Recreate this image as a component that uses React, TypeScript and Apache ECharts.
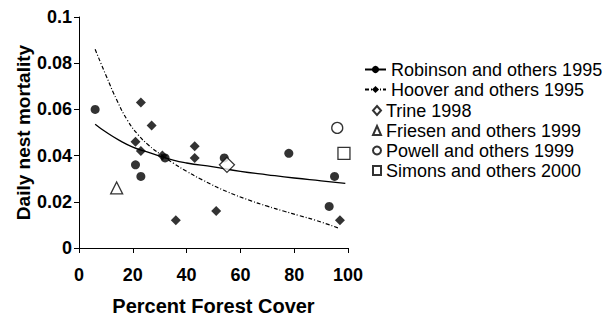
import React, { useEffect, useRef } from "react";
import * as echarts from "echarts";

const FONT = "'Liberation Sans', Arial, sans-serif";

// Observed data (percent forest cover, daily nest mortality)
const robinsonPoints: [number, number][] = [
  [6, 0.060], [21, 0.036], [23, 0.031], [32, 0.039], [54, 0.039],
  [78, 0.041], [93, 0.018], [95, 0.031],
];
const hooverPoints: [number, number][] = [
  [21, 0.046], [23, 0.063], [23, 0.042], [27, 0.053], [31, 0.040],
  [36, 0.012], [43, 0.044], [43, 0.039], [51, 0.016], [97, 0.012],
];
const trinePoints: [number, number][] = [[55, 0.036]];
const friesenPoints: [number, number][] = [[14, 0.026]];
const powellPoints: [number, number][] = [[96, 0.052]];
const simonsPoints: [number, number][] = [[98.5, 0.041]];

// Fitted trend curves
const robinsonTrendX = [6, 10, 15, 20, 25, 30, 35, 40, 50, 60, 70, 80, 90, 99];
const robinsonTrendY = [0.0536, 0.0502, 0.0466, 0.0437, 0.0417, 0.0398, 0.0380, 0.0368, 0.0351, 0.0332, 0.0317, 0.0303, 0.0291, 0.0280];
const hooverTrendX = [6, 10, 14, 18, 22, 26, 30, 35, 40, 46, 55, 64, 70, 76, 82, 88, 97];
const hooverTrendY = [0.0860, 0.0748, 0.0642, 0.0553, 0.0490, 0.0444, 0.0408, 0.0368, 0.0332, 0.0294, 0.0244, 0.0204, 0.0181, 0.0160, 0.0140, 0.0120, 0.0084];

const xTicks = [0, 20, 40, 60, 80, 100];
const yTicks = [0, 0.02, 0.04, 0.06, 0.08, 0.1];

const names = [
  "Robinson and others 1995",
  "Hoover and others 1995",
  "Trine 1998",
  "Friesen and others 1999",
  "Powell and others 1999",
  "Simons and others 2000",
];

export default function App() {
  const ref = useRef<HTMLDivElement>(null);
  useEffect(() => {
    if (!ref.current) return;
    const chart = echarts.init(ref.current, null, { renderer: "svg" });
    const hollow = { color: "#ffffff", borderColor: "#000000", borderWidth: 1.3 };
    const legendText = { fontFamily: FONT, fontSize: 18, color: "#000", lineHeight: 19 };
    chart.setOption({
      animation: false,
      backgroundColor: "#ffffff",
      textStyle: { fontFamily: FONT },
      grid: { left: 79, right: 259, top: 17, bottom: 68, containLabel: false, outerBoundsMode: "none" },
      legend: [
        {
          data: names.slice(0, 2),
          orient: "vertical",
          left: 359,
          top: 55,
          itemWidth: 21,
          itemHeight: 9,
          itemGap: 1,
          selectedMode: false,
          textStyle: legendText,
        },
        {
          data: names.slice(2),
          orient: "vertical",
          left: 367,
          top: 96,
          itemWidth: 8,
          itemHeight: 9,
          itemGap: 1,
          selectedMode: false,
          textStyle: legendText,
        },
      ],
      xAxis: {
        type: "value",
        min: xTicks[0],
        max: xTicks[xTicks.length - 1],
        interval: 20,
        name: "Percent Forest Cover",
        nameLocation: "middle",
        nameGap: 48,
        nameTextStyle: { fontFamily: FONT, fontSize: 20, fontWeight: "bold", color: "#000", lineHeight: 19 },
        axisLine: { lineStyle: { color: "#000", width: 1 } },
        axisTick: { show: true, length: 5, inside: false, lineStyle: { color: "#000" } },
        axisLabel: { fontFamily: FONT, fontSize: 18, fontWeight: "bold", color: "#000", margin: 18 },
        splitLine: { show: false },
      },
      yAxis: {
        type: "value",
        min: yTicks[0],
        max: yTicks[yTicks.length - 1],
        interval: 0.02,
        name: "Daily nest mortality",
        nameLocation: "middle",
        nameGap: 42,
        nameTextStyle: { fontFamily: FONT, fontSize: 19, fontWeight: "bold", color: "#000" },
        axisLine: { show: true, lineStyle: { color: "#000", width: 1 } },
        axisTick: { show: true, length: 5, inside: false, lineStyle: { color: "#000" } },
        axisLabel: {
          fontFamily: FONT, fontSize: 18, fontWeight: "bold", color: "#000", margin: 7,
          formatter: (v: number) => String(Math.round(v * 100) / 100),
        },
        splitLine: { show: false },
      },
      series: [
        {
          name: names[0],
          type: "line",
          data: robinsonTrendX.map((x, i) => [x, robinsonTrendY[i]]),
          smooth: true,
          showSymbol: false,
          symbol: "circle",
          symbolSize: 7,
          itemStyle: { color: "#000" },
          lineStyle: { color: "#000", width: 1.3, type: "solid" },
          z: 2,
        },
        {
          name: names[1],
          type: "line",
          data: hooverTrendX.map((x, i) => [x, hooverTrendY[i]]),
          smooth: true,
          showSymbol: false,
          symbol: "diamond",
          symbolSize: 8,
          itemStyle: { color: "#000" },
          lineStyle: { color: "#000", width: 1.2, type: [4, 2, 1, 2] },
          z: 2,
        },
        {
          name: names[0],
          type: "scatter",
          data: robinsonPoints,
          symbol: "circle",
          symbolSize: 9,
          itemStyle: { color: "#000" },
          z: 3,
        },
        {
          name: names[1],
          type: "scatter",
          data: hooverPoints,
          symbol: "diamond",
          symbolSize: 10,
          itemStyle: { color: "#000" },
          z: 3,
        },
        {
          name: names[2],
          type: "scatter",
          data: trinePoints,
          symbol: "diamond",
          symbolSize: 15,
          itemStyle: hollow,
          z: 4,
        },
        {
          name: names[3],
          type: "scatter",
          data: friesenPoints,
          symbol: "triangle",
          symbolSize: 12,
          itemStyle: hollow,
          z: 4,
        },
        {
          name: names[4],
          type: "scatter",
          data: powellPoints,
          symbol: "circle",
          symbolSize: 11,
          itemStyle: hollow,
          z: 4,
        },
        {
          name: names[5],
          type: "scatter",
          data: simonsPoints,
          symbol: "rect",
          symbolSize: 12,
          itemStyle: hollow,
          z: 4,
        },
      ],
    });
    return () => chart.dispose();
  }, []);
  return (
    <div
      ref={ref}
      style={{ position: "fixed", left: 0, top: 0, width: 607, height: 316, background: "#fff" }}
    />
  );
}
